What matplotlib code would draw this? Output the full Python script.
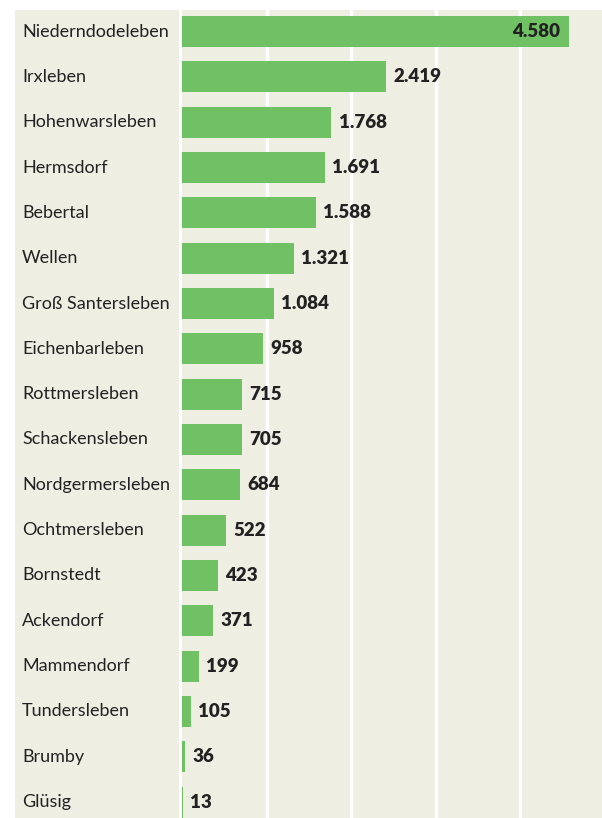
import matplotlib
matplotlib.use("Agg")
import matplotlib.pyplot as plt
import numpy as np

# Einwohner je Ortsteil
orte = ["Niederndodeleben", "Irxleben", "Hohenwarsleben", "Hermsdorf", "Bebertal",
        "Wellen", "Groß Santersleben", "Eichenbarleben", "Rottmersleben",
        "Schackensleben", "Nordgermersleben", "Ochtmersleben", "Bornstedt",
        "Ackendorf", "Mammendorf", "Tundersleben", "Brumby", "Glüsig"]
werte = [4580, 2419, 1768, 1691, 1588, 1321, 1084, 958, 715, 705, 684, 522,
         423, 371, 199, 105, 36, 13]
gitter = [1000, 2000, 3000, 4000]

bg = "#efeee3"
gruen = "#70c163"
txt = "#222222"
fam = ["Lato", "DejaVu Sans"]

W, H = 602, 818
fig = plt.figure(figsize=(W / 100, H / 100), dpi=100)

top, bottom = 10, 818
# linke Spalte mit Namen
axl = fig.add_axes([15 / W, 1 - bottom / H, (179 - 15) / W, (bottom - top) / H])
# rechte Spalte mit Balken
ax = fig.add_axes([182 / W, 1 - bottom / H, (602 - 182) / W, (bottom - top) / H])

n = len(orte)
y = np.arange(n)
ylim = (n - 1 + 0.35, -0.475)

axl.set_xlim(0, 1)
axl.set_ylim(*ylim)
axl.axis("off")
axl.add_patch(plt.Rectangle((0, 0), 1, 1, transform=axl.transAxes,
                            color=bg, zorder=-1))
for i, name in enumerate(orte):
    axl.text(7 / 164, i, name, va="center", ha="left", fontsize=13,
             color=txt, family=fam)

ax.set_facecolor(bg)
xmax = 420 / 0.0845
ax.set_xlim(0, xmax)
ax.set_ylim(*ylim)
for g in gitter:
    ax.axvline(g, color="white", lw=2.5, zorder=0)
ax.barh(y, werte, height=0.685, color=gruen, zorder=2)

for i, v in enumerate(werte):
    s = f"{v:,}".replace(",", ".")
    if i == 0:
        ax.text(v - 100, i, s, va="center", ha="right", fontsize=13.5,
                fontweight="heavy", color=txt, family=fam, zorder=3)
    else:
        ax.text(v + 85, i, s, va="center", ha="left", fontsize=13.5,
                fontweight="heavy", color=txt, family=fam, zorder=3)

for sp in ax.spines.values():
    sp.set_visible(False)
ax.set_xticks([])
ax.set_yticks([])

fig.savefig("out.png", dpi=100, facecolor="white")
